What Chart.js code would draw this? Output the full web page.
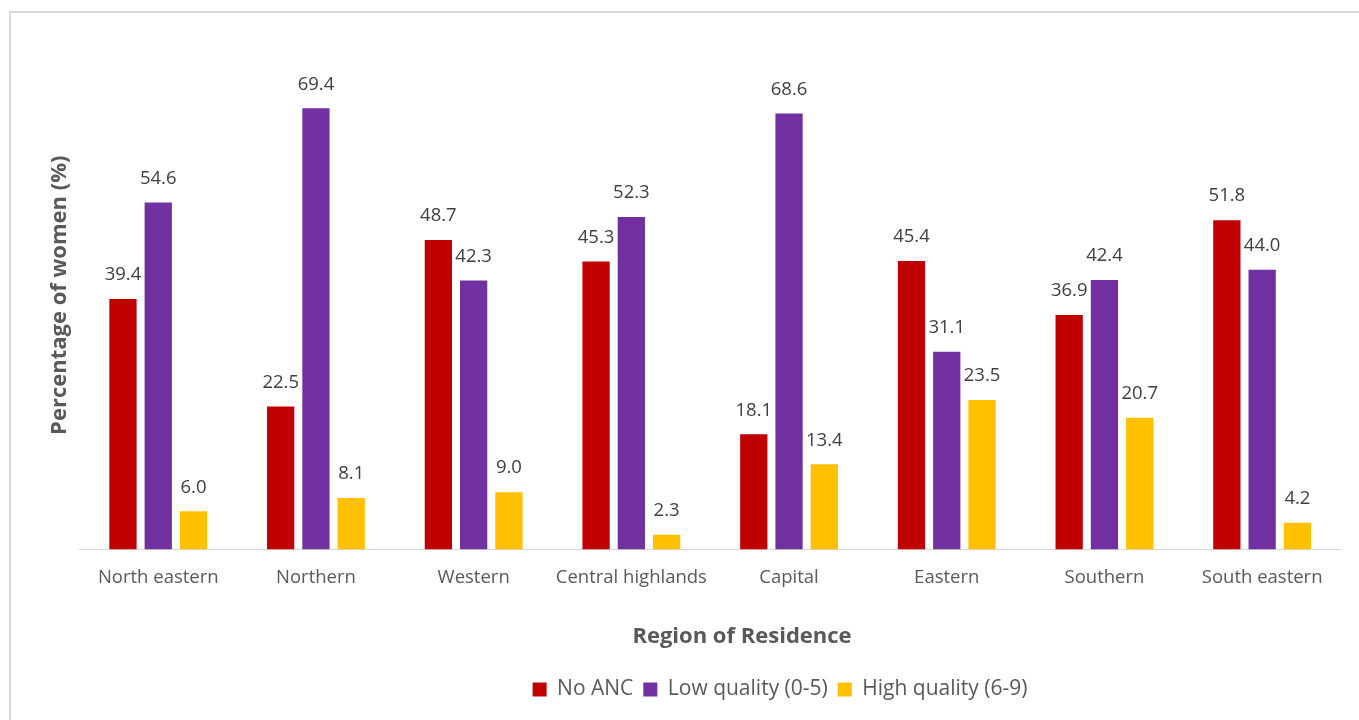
<!DOCTYPE html>
<html>
<head>
<meta charset="utf-8">
<script src="https://cdn.jsdelivr.net/npm/chart.js@4/dist/chart.umd.min.js"></script>
<style>
  html, body { margin: 0; padding: 0; background: #fff; overflow: hidden; }
  .frame { position: absolute; left: 9px; top: 11px; width: 1600px; height: 800px; border: 2px solid #D9D9D9; }
  .wrap { position: absolute; left: 0; top: 0; width: 1359px; height: 720px; }
</style>
</head>
<body>
<div class="frame"></div>
<div class="wrap"><canvas id="ancChart" width="1359" height="720"></canvas></div>
<script>
// Regions and ANC quality shares (% of women)
const regions     = ['North eastern', 'Northern', 'Western', 'Central highlands', 'Capital', 'Eastern', 'Southern', 'South eastern'];
const noAnc       = [39.4, 22.5, 48.7, 45.3, 18.1, 45.4, 36.9, 51.8];
const lowQuality  = [54.6, 69.4, 42.3, 52.3, 68.6, 31.1, 42.4, 44.0];
const highQuality = [6.0, 8.1, 9.0, 2.3, 13.4, 23.5, 20.7, 4.2];

const FONT = "'Open Sans', sans-serif";
const TEXT = '#595959';

// value printed above each bar
const barValues = {
  id: 'barValues',
  afterDatasetsDraw(chart) {
    const ctx = chart.ctx;
    ctx.save();
    ctx.font = `18.5px ${FONT}`;
    ctx.fillStyle = '#404040';
    ctx.textAlign = 'center';
    ctx.textBaseline = 'middle';
    chart.data.datasets.forEach((ds, i) => {
      chart.getDatasetMeta(i).data.forEach((bar, j) => {
        ctx.fillText(ds.data[j].toFixed(1), bar.x, bar.y - 24);
      });
    });
    ctx.restore();
  }
};

// recenter the bottom title and legend boxes
const recenter = {
  id: 'recenter',
  afterLayout(chart) {
    const move = (box, cx) => {
      if (!box) return;
      const w = box.right - box.left;
      box.left = cx - w / 2;
      box.right = box.left + w;
    };
    move(chart.titleBlock, 742);
    move(chart.legend, 780);
  }
};

new Chart(document.getElementById('ancChart'), {
  type: 'bar',
  data: {
    labels: regions,
    datasets: [
      { label: 'No ANC',             data: noAnc,       backgroundColor: '#C00000' },
      { label: 'Low quality (0-5)',  data: lowQuality,  backgroundColor: '#7030A0' },
      { label: 'High quality (6-9)', data: highQuality, backgroundColor: '#FFC000' },
    ],
  },
  options: {
    responsive: false,
    animation: false,
    categoryPercentage: 0.671,
    barPercentage: 0.773,
    layout: { padding: { top: 41, left: 43, right: 18, bottom: 10 } },
    plugins: {
      tooltip: { enabled: false },
      title: {
        display: true,
        position: 'bottom',
        weight: 500,
        text: 'Region of Residence',
        color: TEXT,
        font: { family: FONT, size: 22, weight: 'bold' },
        padding: { top: 18, bottom: 19 },
      },
      legend: {
        position: 'bottom',
        labels: {
          color: TEXT,
          font: { family: FONT, size: 21 },
          boxWidth: 14, boxHeight: 14,
          padding: 10,
        },
      },
    },
    scales: {
      x: {
        grid: { display: false, drawTicks: false },
        border: { color: '#D9D9D9', width: 1 },
        ticks: { color: TEXT, font: { family: FONT, size: 18.5 }, padding: 17, maxRotation: 0 },
      },
      y: {
        min: 0, max: 80,
        grid: { display: false, drawTicks: false },
        border: { display: false },
        ticks: { display: false },
        title: {
          display: true,
          text: 'Percentage of women (%)',
          color: TEXT,
          font: { family: FONT, size: 22, weight: 'bold' },
          padding: { top: 4, bottom: 6 },
        },
      },
    },
  },
  plugins: [barValues, recenter],
});
</script>
</body>
</html>
